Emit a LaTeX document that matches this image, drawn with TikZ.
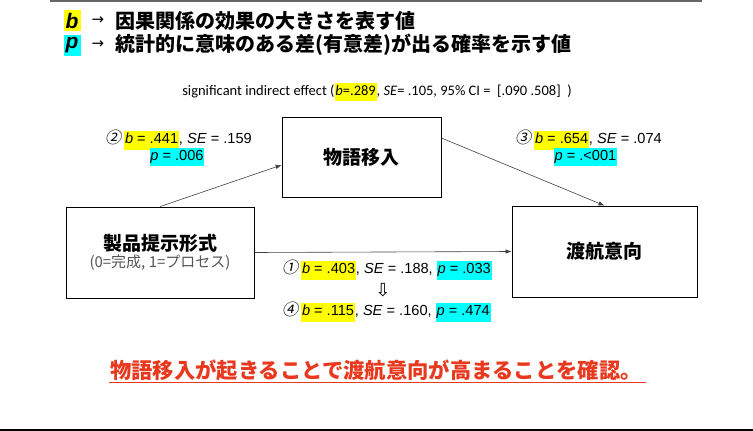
\documentclass[tikz,border=0pt]{standalone}
\usepackage{fontspec}
\setmainfont{Liberation Sans}
\newfontfamily\jp{Noto Sans CJK JP}
\newfontfamily\jpsl[FakeSlant=0.2]{Noto Sans CJK JP}
\newfontfamily\calfont{Carlito}
\newfontfamily\djv{DejaVu Sans}
\usetikzlibrary{arrows.meta,calc}
\definecolor{hlY}{RGB}{255,255,0}
\definecolor{hlC}{RGB}{0,255,255}
\definecolor{redtxt}{RGB}{232,56,30}
\definecolor{subgray}{RGB}{85,85,85}
\newcommand\hY[1]{{\setlength\fboxsep{0.8pt}\colorbox{hlY}{\strut #1}}}
\newcommand\hC[1]{{\setlength\fboxsep{0.8pt}\colorbox{hlC}{\strut #1}}}
\newcommand\circn[1]{{\jpsl\fontsize{16}{18}\selectfont #1}\hspace{3pt}}
\tikzset{
  boxnode/.style={draw=black, line width=0.8pt, fill=white, inner sep=0},
  arr/.style={draw=black!75, line width=0.6pt, -{Latex[length=6pt,width=4.5pt]}},
  lbl/.style={inner sep=0, font=\fontsize{14.6}{17}\selectfont},
  hdr/.style={inner sep=0, font=\jp\bfseries\fontsize{20}{22}\selectfont},
  boxtitle/.style={inner sep=0, font=\jp\bfseries\fontsize{19}{22}\selectfont}
}
\begin{document}
\begin{tikzpicture}[x=1pt,y=-1pt]
\useasboundingbox (0,0) rectangle (753,431);
% frame lines
\draw[draw=black!60, line width=1.5pt] (50,1) -- (702,1);
\draw[draw=black, line width=2pt] (0,430) -- (753,430);
% header
\node[fill=hlY, inner sep=0, minimum width=17pt, minimum height=21pt] (hb) at (72,20.5) {\fontsize{21}{22}\selectfont\bfseries\itshape b};
\node[fill=hlC, inner sep=0, minimum width=17pt, minimum height=21pt] (hp) at (72,45) {\fontsize{21}{22}\selectfont\bfseries\itshape p};
\node[inner sep=0] (ab) at (98,21) {\djv\fontsize{15}{16}\selectfont →};
\node[inner sep=0] (ap) at (98,45) {\djv\fontsize{15}{16}\selectfont →};
\node[hdr, anchor=west] (h1) at (115,21) {因果関係の効果の大きさを表す値};
\node[hdr, anchor=west] (h2) at (115,45) {統計的に意味のある差(有意差)が出る確率を示す値};
% indirect effect line
\node[inner sep=0] (ind) at (377,92) {\calfont\fontsize{14.5}{16}\selectfont significant indirect effect (\hY{\textit{b}=.289}, \textit{SE}= .105, 95\% CI = \ [.090 .508] \ )};
% boxes
\node[boxnode, minimum width=159pt, minimum height=80pt] (story) at (361.5,157) {};
\node[boxtitle] (storyt) at (story.center) {物語移入};
\node[boxnode, minimum width=188pt, minimum height=91pt] (prod) at (160,252.5) {};
\node[boxtitle] (prodt) at (160,243) {製品提示形式};
\node[inner sep=0, text=subgray, font=\jp\fontsize{15}{17}\selectfont] (prods) at (160,263) {(0=完成, 1=プロセス)};
\node[boxnode, minimum width=185pt, minimum height=91pt] (dest) at (604.5,251.5) {};
\node[boxtitle] (destt) at (dest.center) {渡航意向};
% connectors
\draw[arr] (prod.north) -- ($(story.west)+(0,8)$);
\draw[arr] ($(story.east)+(0,-19)$) -- (dest.north);
\draw[arr] (prod.east) -- (dest.west);
% labels
\node[lbl, anchor=west] (l2a) at (105,140) {\circn{②}\hY{\textit{b} = .441}, \textit{SE} = .159};
\node[lbl] (l2b) at (177,157) {\hC{\textit{p} = .006}};
\node[lbl, anchor=west] (l3a) at (515,140) {\circn{③}\hY{\textit{b} = .654}, \textit{SE} = .074};
\node[lbl] (l3b) at (585.5,157) {\hC{\textit{p} = .<001}};
\node[lbl, anchor=west] (l1) at (282,270) {\circn{①}\hY{\textit{b} = .403}, \textit{SE} = .188, \hC{\textit{p} = .033}};
\node[inner sep=0] (dn) at (383,290) {\djv\fontsize{18}{20}\selectfont ⇩};
\node[lbl, anchor=west] (l4) at (282,312) {\circn{④}\hY{\textit{b} = .115}, \textit{SE} = .160, \hC{\textit{p} = .474}};
% conclusion
\node[inner sep=0, text=redtxt, font=\jp\bfseries\fontsize{21.3}{24}\selectfont] (concl) at (376,370) {物語移入が起きることで渡航意向が高まることを確認。};
\draw[draw=redtxt, line width=1pt] ($(concl.base west)+(-1,4)$) -- ($(concl.base east)+(4,4)$);
\end{tikzpicture}
\end{document}
